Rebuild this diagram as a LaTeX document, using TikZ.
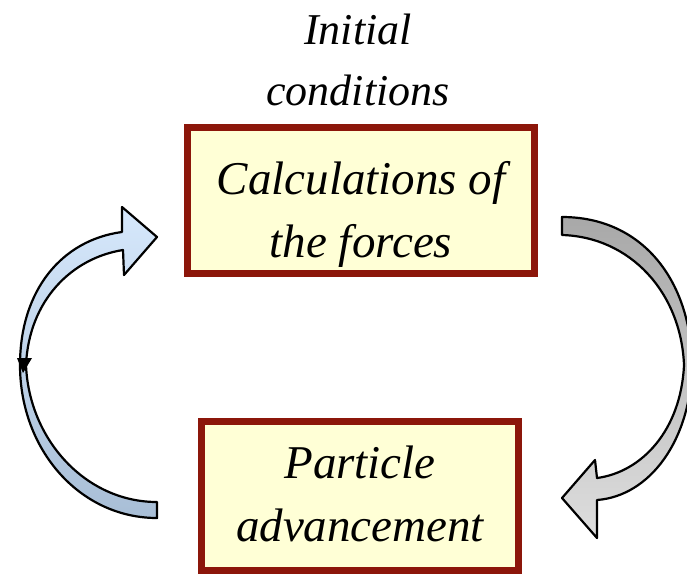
\documentclass[tikz,border=0pt]{standalone}
\usepackage{fontspec}
\setmainfont{Liberation Serif}
\begin{document}
\begin{tikzpicture}[x=1pt,y=-1pt,
  box/.style={draw=boxred, fill=boxfill, line width=7pt, inner sep=0pt},
  boxtext/.style={inner sep=0pt, align=center, font=\fontsize{47}{63}\selectfont\itshape},
  lbl/.style={inner sep=0pt, align=center, font=\fontsize{44}{61}\selectfont\itshape},
  blockarrow/.style={draw=black, line width=2.2pt, line join=round}]
\definecolor{boxred}{RGB}{140,22,10}
\definecolor{boxfill}{RGB}{255,255,214}
\definecolor{bluetop}{RGB}{214,232,252}
\definecolor{bluebot}{RGB}{168,190,214}
\definecolor{greytop}{RGB}{168,168,168}
\definecolor{greybot}{RGB}{222,222,222}
\useasboundingbox (0,0) rectangle (687,574);

\node[lbl] (init) at (358,60) {Initial\\conditions};
\node[box, minimum width=347pt, minimum height=146pt] (calc) at (361,200.5) {};
\node[boxtext] (calctext) at (361,214) {Calculations of\\the forces};
\node[box, minimum width=317pt, minimum height=149pt] (adv) at (360,496) {};
\node[boxtext] (advtext) at (360,494) {Particle\\advancement};

% left curved arrow (blue)
\path[blockarrow, top color=bluetop, bottom color=bluebot]
  (157,518) .. controls (80,518) and (20,450) .. (20,365)
  .. controls (20,290) and (62,240) .. (122,232)
  -- (122,207) -- (157,237) -- (124,275) -- (123,250)
  .. controls (72,258) and (29,300) .. (26,365)
  .. controls (29,440) and (86,502) .. (157,502) -- cycle;
\fill[black] (17,358) -- (32,358) -- (23,373) -- cycle;

% right curved arrow (grey)
\begin{scope}
\clip (0,0) rectangle (687,574);
\path[blockarrow, top color=greytop, bottom color=greybot]
  (562,217) .. controls (642,217) and (691,280) .. (692,365)
  .. controls (691,440) and (650,496) .. (597,500)
  -- (597,538) -- (562,498) -- (595,460) -- (597,478)
  .. controls (642,472) and (681,430) .. (684,365)
  .. controls (681,292) and (630,237) .. (562,235) -- cycle;
\end{scope}
\end{tikzpicture}
\end{document}
